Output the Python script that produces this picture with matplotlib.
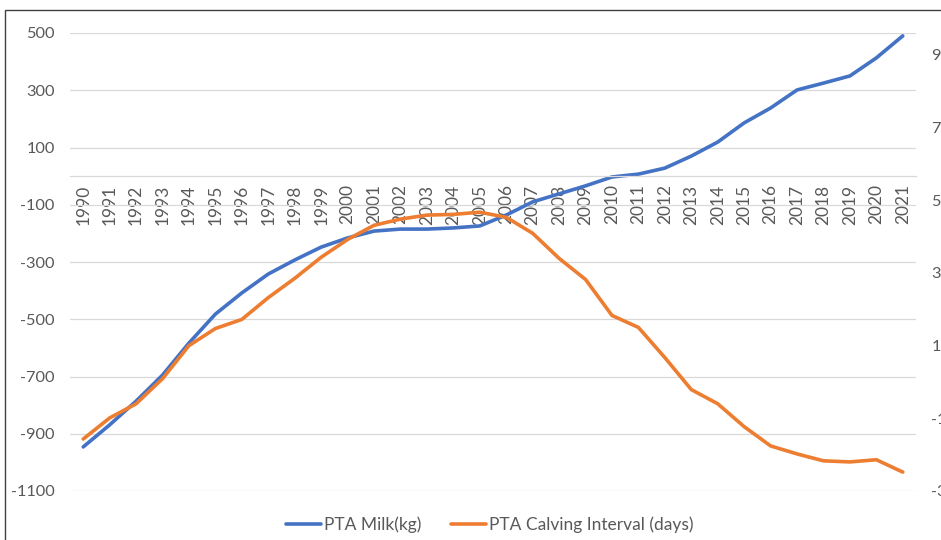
# PTA trends for milk yield and calving interval, 1990-2021
import matplotlib
matplotlib.use('Agg')
import matplotlib.pyplot as plt
from matplotlib.patches import Rectangle

plt.rcParams['font.family'] = ['Lato', 'DejaVu Sans']

years = [str(y) for y in range(1990, 2022)]
pta_milk = [-946, -869, -786, -695, -583, -482, -408, -342, -293, -248,
            -216, -192, -185, -185, -181, -174, -136, -90, -62, -34,
            -3, 7, 28, 70, 119, 186, 238, 301, 325, 350, 413, 490]
pta_ci = [-1.57, -0.99, -0.60, 0.09, 1.00, 1.47, 1.72, 2.32, 2.85, 3.43,
          3.92, 4.31, 4.48, 4.59, 4.61, 4.67, 4.53, 4.09, 3.40, 2.82,
          1.83, 1.50, 0.67, -0.21, -0.60, -1.23, -1.76, -1.98, -2.17, -2.20,
          -2.14, -2.48]
milk_ticks = list(range(-1100, 501, 200))
ci_ticks = list(range(-3, 10, 2))

txt = '#595959'
grid = '#d9d9d9'
blue = '#4472C4'
orange = '#ED7D31'
fs = 11.8

fig = plt.figure(figsize=(9.41, 5.40), dpi=100)
ax = fig.add_axes([70/941, 49/540, 846/941, 458/540])
ax2 = ax.twinx()

x = range(len(years))
l1, = ax.plot(x, pta_milk, color=blue, lw=2.6, solid_capstyle='round',
              label='PTA Milk(kg)')
l2, = ax2.plot(x, pta_ci, color=orange, lw=2.6, solid_capstyle='round',
               label='PTA Calving Interval (days)')

ax.set_xlim(-0.5, len(years) - 0.5)
ax.set_ylim(-1100, 500)
ax2.set_ylim(-3, 9.6)

ax.set_yticks(milk_ticks)
ax.set_yticklabels([str(v) for v in milk_ticks])
ax2.set_yticks(ci_ticks)
ax2.set_yticklabels([str(v) for v in ci_ticks])
ax.set_xticks(list(x))
ax.set_xticklabels(years)

ax.yaxis.grid(True, color=grid, lw=0.9)
ax.tick_params(axis='y', length=0, pad=11, labelsize=fs, colors=txt)
ax2.tick_params(axis='y', length=0, pad=11, labelsize=fs, colors=txt)
ax.tick_params(axis='x', length=0, pad=6, labelsize=12.5, colors=txt,
               labelrotation=90)

for a in (ax, ax2):
    for s in ('top', 'left', 'right'):
        a.spines[s].set_visible(False)
ax2.spines['bottom'].set_visible(False)
ax.spines['bottom'].set_position(('data', 0))
ax.spines['bottom'].set_color(grid)
ax.spines['bottom'].set_linewidth(0.9)

fig.legend(handles=[l1, l2], loc='center', bbox_to_anchor=(490/941, 15/540),
           ncol=2, frameon=False, fontsize=12.5, labelcolor=txt,
           handlelength=2.0, handletextpad=0.2, columnspacing=1.7)

# chart frame
fig.patches.append(Rectangle((5/941, -0.1), 1.2, 0.1 + 530/540,
                             transform=fig.transFigure, fill=False,
                             edgecolor='#404040', lw=1.0))

fig.savefig('out.png', dpi=100)
